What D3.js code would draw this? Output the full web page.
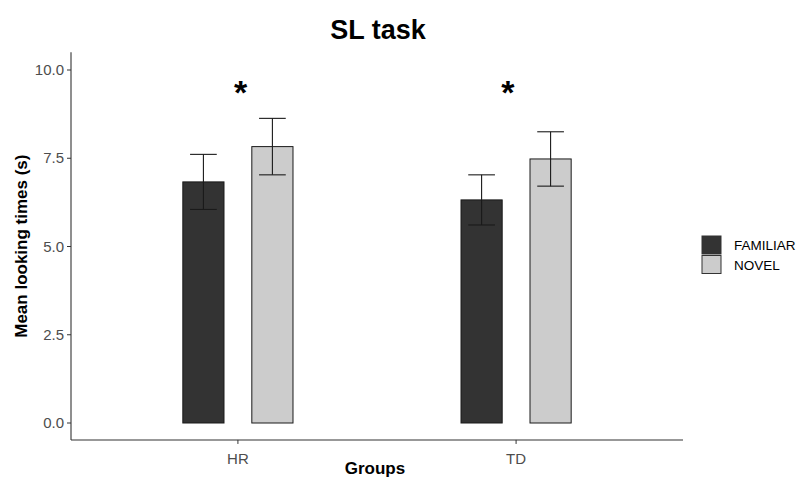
<!DOCTYPE html>
<html>
<head>
<meta charset="utf-8">
<script src="https://cdn.jsdelivr.net/npm/d3@7"></script>
<style>
  body { margin: 0; background: #fff; }
  text { font-family: "Liberation Sans", Arial, sans-serif; }
</style>
</head>
<body>
<svg id="chart" width="797" height="479"></svg>
<script>
// data
const groups = ['HR', 'TD']
const conditions = ['FAMILIAR', 'NOVEL']
const familiarMeans = [6.83, 6.32]
const novelMeans = [7.83, 7.48]
const familiarErr = [0.78, 0.71]
const novelErr = [0.80, 0.77]
const yTicks = [0, 2.5, 5, 7.5, 10]
const starGroups = ['HR', 'TD']
const starShift = [0.01, -0.03]   // small nudge, in group units
const starY = 9.52

const colors = { FAMILIAR: '#333333', NOVEL: '#cccccc' }

const svg = d3.select('#chart')

// panel bounds
const left = 71, right = 683

// discrete x like ggplot: groups at 1..n, expanded by 0.6
const x = d3.scaleLinear().domain([0.4, groups.length + 0.6]).range([left, right])
const y = d3.scaleLinear().domain([0, 10]).range([423, 70])
const yBottom = y(-0.48), yTop = y(10.5)

const barW = 0.148
const dodge = 0.124

// flatten into one list of bars
const bars = []
groups.forEach((g, i) => {
    bars.push({ group: g, cond: 'FAMILIAR', pos: i + 1 - dodge, mean: familiarMeans[i], err: familiarErr[i] })
    bars.push({ group: g, cond: 'NOVEL', pos: i + 1 + dodge, mean: novelMeans[i], err: novelErr[i] })
})

// Title
svg.append('text')
    .attr('x', 378).attr('y', 39)
    .attr('text-anchor', 'middle')
    .attr('font-size', 27).attr('font-weight', 'bold')
    .text('SL task')

// Bars
svg.append('g').selectAll('rect').data(bars).enter()
    .append('rect')
    .attr('x', d => x(d.pos - barW / 2))
    .attr('width', d => x(d.pos + barW / 2) - x(d.pos - barW / 2))
    .attr('y', d => y(d.mean))
    .attr('height', d => y(0) - y(d.mean))
    .attr('fill', d => colors[d.cond])
    .attr('stroke', '#1a1a1a').attr('stroke-width', 1)

// Error bars
const capHalf = 0.048
const eb = svg.append('g').attr('stroke', '#1a1a1a').attr('stroke-width', 1.1)
bars.forEach(d => {
    eb.append('line')
        .attr('x1', x(d.pos)).attr('x2', x(d.pos))
        .attr('y1', y(d.mean + d.err)).attr('y2', y(d.mean - d.err))
    ;[d.mean + d.err, d.mean - d.err].forEach(v => {
        eb.append('line')
            .attr('x1', x(d.pos - capHalf)).attr('x2', x(d.pos + capHalf))
            .attr('y1', y(v)).attr('y2', y(v))
    })
})

// Significance stars
svg.append('g').selectAll('text').data(starGroups).enter()
    .append('text')
    .attr('x', (d, i) => x(groups.indexOf(d) + 1 + starShift[i]))
    .attr('y', y(starY) + 17)
    .attr('text-anchor', 'middle')
    .attr('font-size', 34).attr('font-weight', 'bold')
    .text('*')

// Axes
const axisColor = '#333333'
svg.append('line')
    .attr('x1', left).attr('x2', left).attr('y1', yTop).attr('y2', yBottom)
    .attr('stroke', axisColor).attr('stroke-width', 1.1)
svg.append('line')
    .attr('x1', left).attr('x2', right).attr('y1', yBottom).attr('y2', yBottom)
    .attr('stroke', axisColor).attr('stroke-width', 1.1)

const yAxis = svg.append('g')
yTicks.forEach(t => {
    yAxis.append('line')
        .attr('x1', left - 4).attr('x2', left).attr('y1', y(t)).attr('y2', y(t))
        .attr('stroke', axisColor)
    yAxis.append('text')
        .attr('x', left - 7).attr('y', y(t) + 5)
        .attr('text-anchor', 'end')
        .attr('font-size', 15).attr('fill', '#4d4d4d')
        .text(t.toFixed(1))
})

const xAxis = svg.append('g')
groups.forEach((g, i) => {
    xAxis.append('line')
        .attr('x1', x(i + 1)).attr('x2', x(i + 1)).attr('y1', yBottom).attr('y2', yBottom + 4)
        .attr('stroke', axisColor)
    xAxis.append('text')
        .attr('x', x(i + 1)).attr('y', yBottom + 24)
        .attr('text-anchor', 'middle')
        .attr('font-size', 15).attr('fill', '#4d4d4d')
        .text(g)
})

// axis titles
svg.append('text')
    .attr('x', 375).attr('y', 474)
    .attr('text-anchor', 'middle')
    .attr('font-size', 17).attr('font-weight', 'bold')
    .text('Groups')

svg.append('text')
    .attr('transform', `translate(27, ${(yTop + yBottom) / 2}) rotate(-90)`)
    .attr('text-anchor', 'middle')
    .attr('font-size', 17).attr('font-weight', 'bold')
    .text('Mean looking times (s)')

// Legend
const legend = svg.append('g').attr('transform', 'translate(702, 236)')
conditions.forEach((c, i) => {
    legend.append('rect')
        .attr('x', 0).attr('y', i * 19.5)
        .attr('width', 19).attr('height', 18)
        .attr('fill', colors[c]).attr('stroke', '#333').attr('stroke-width', 1)
    legend.append('text')
        .attr('x', 32).attr('y', i * 19.5 + 14)
        .attr('font-size', 13.5)
        .text(c)
})
</script>
</body>
</html>
